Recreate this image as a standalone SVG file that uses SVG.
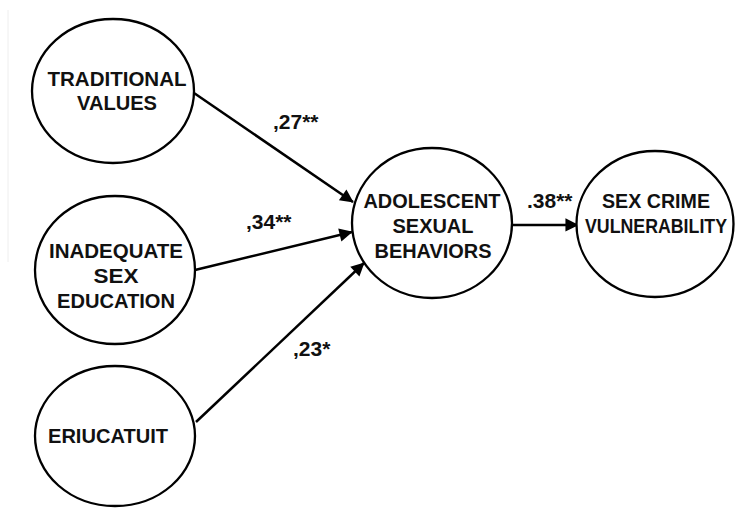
<svg xmlns="http://www.w3.org/2000/svg" width="743" height="515" viewBox="0 0 743 515">
<defs>
<style>
.node ellipse{fill:#fff;stroke:#000;stroke-width:2.3}
.node text{font-family:"Liberation Sans",Arial,sans-serif;font-weight:bold;font-size:21px;fill:#111;text-anchor:middle}
.lbl{font-family:"Liberation Sans",Arial,sans-serif;font-weight:bold;font-size:21px;fill:#111}
.edges line{stroke:#000;stroke-width:2.5;marker-end:url(#ah)}
</style>
<marker id="ah" viewBox="0 0 10 10" refX="9" refY="5" markerWidth="8" markerHeight="7" markerUnits="userSpaceOnUse" orient="auto" overflow="visible">
<path d="M0,0 L10,5 L0,10 Z" fill="#000" transform="scale(1.9)translate(-4.7,-2.4)"/>
</marker>
</defs>
<rect width="743" height="515" fill="#fff"/>
<line x1="8" y1="10" x2="8" y2="262" stroke="#eee" stroke-width="1"/>
<g class="edges">
<line x1="194" y1="93" x2="353" y2="202"/>
<line x1="195" y1="270" x2="352" y2="232"/>
<line x1="196" y1="422" x2="364" y2="263"/>
<line x1="513" y1="225" x2="578" y2="225"/>
</g>
<g id="traditional" class="node">
<ellipse cx="113" cy="91" rx="81" ry="72"/>
<text x="117" y="86" textLength="139" lengthAdjust="spacingAndGlyphs">TRADITIONAL</text>
<text x="117" y="110" textLength="80" lengthAdjust="spacingAndGlyphs">VALUES</text>
</g>
<g id="inadequate" class="node">
<ellipse cx="115" cy="270" rx="80" ry="74"/>
<text x="116" y="258" textLength="134" lengthAdjust="spacingAndGlyphs">INADEQUATE</text>
<text x="116" y="283" textLength="45" lengthAdjust="spacingAndGlyphs">SEX</text>
<text x="116" y="308" textLength="118" lengthAdjust="spacingAndGlyphs">EDUCATION</text>
</g>
<g id="eriucatuit" class="node">
<ellipse cx="115" cy="436" rx="80" ry="70"/>
<text x="108" y="443" textLength="120" lengthAdjust="spacingAndGlyphs">ERIUCATUIT</text>
</g>
<g id="adolescent" class="node">
<ellipse cx="432" cy="223" rx="80" ry="75"/>
<text x="432" y="208" textLength="137" lengthAdjust="spacingAndGlyphs">ADOLESCENT</text>
<text x="433" y="233" textLength="81" lengthAdjust="spacingAndGlyphs">SEXUAL</text>
<text x="433" y="258" textLength="117" lengthAdjust="spacingAndGlyphs">BEHAVIORS</text>
</g>
<g id="sexcrime" class="node">
<ellipse cx="655" cy="224" rx="78.5" ry="73"/>
<text x="656" y="208" textLength="108" lengthAdjust="spacingAndGlyphs">SEX CRIME</text>
<text x="656" y="233" textLength="142" lengthAdjust="spacingAndGlyphs">VULNERABILITY</text>
</g>
<g id="labels">
<text class="lbl" x="273" y="129">,27**</text>
<text class="lbl" x="246" y="229">,34**</text>
<text class="lbl" x="293" y="356">,23*</text>
<text class="lbl" x="527" y="208">.38**</text>
</g>
</svg>
